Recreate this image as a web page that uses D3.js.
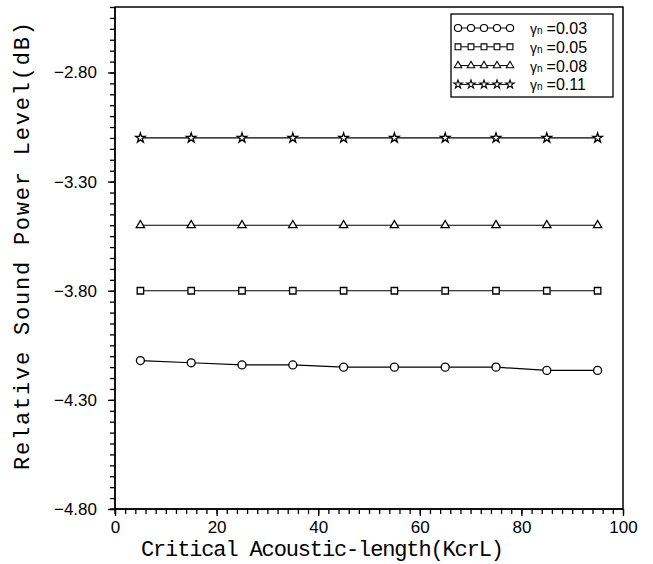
<!DOCTYPE html>
<html>
<head>
<meta charset="utf-8">
<script src="https://cdn.jsdelivr.net/npm/d3@7"></script>
<style>
  body { margin: 0; background: #fff; }
  .axis path, .axis line { stroke: #000; stroke-width: 1.3; }
  .axis text { font-family: "Liberation Sans", sans-serif; font-size: 17px; fill: #000; }
  .title { font-family: "Liberation Mono", monospace; font-size: 22px; fill: #000; }
</style>
</head>
<body>
<script>
// data
var xVals = [5, 15, 25, 35, 45, 55, 65, 75, 85, 95];
var gamma003 = [-4.12, -4.13, -4.14, -4.14, -4.15, -4.15, -4.15, -4.15, -4.165, -4.165];
var gamma005 = [-3.80, -3.80, -3.80, -3.80, -3.80, -3.80, -3.80, -3.80, -3.80, -3.80];
var gamma008 = [-3.50, -3.50, -3.50, -3.50, -3.50, -3.50, -3.50, -3.50, -3.50, -3.50];
var gamma011 = [-3.10, -3.10, -3.10, -3.10, -3.10, -3.10, -3.10, -3.10, -3.10, -3.10];
var seriesLabels = ["0.03", "0.05", "0.08", "0.11"];
var xTicks = [0, 20, 40, 60, 80, 100];
var yTicks = [-4.80, -4.30, -3.80, -3.30, -2.80];

//width, height and plot box
var w = 653, h = 564;
var padLeft = 115, padRight = 623, padTop = 7, padBottom = 509;

var svg = d3.select("body").append("svg")
    .attr("width", w)
    .attr("height", h);

var xScale = d3.scaleLinear().domain([0, 100]).range([padLeft, padRight]);
var yScale = d3.scaleLinear().domain([-4.80, -2.50]).range([padBottom, padTop]);

//frame
svg.append("rect")
    .attr("x", padLeft).attr("y", padTop)
    .attr("width", padRight - padLeft).attr("height", padBottom - padTop)
    .attr("fill", "none").attr("stroke", "#000").attr("stroke-width", 1.5);

//minor ticks
var xMinor = d3.range(0, 101, 2);
var yMinor = d3.range(0, 47).map(function(i){ return -4.80 + i * 0.05; });

svg.append("g")
    .attr("class", "axis")
    .attr("transform", "translate(0," + padBottom + ")")
    .call(d3.axisBottom(xScale).tickValues(xMinor).tickSize(5).tickSizeOuter(0).tickFormat(""))
    .select(".domain").remove();

svg.append("g")
    .attr("class", "axis")
    .attr("transform", "translate(" + padLeft + ",0)")
    .call(d3.axisLeft(yScale).tickValues(yMinor).tickSize(5).tickSizeOuter(0).tickFormat(""))
    .select(".domain").remove();

//major ticks with labels
var xAxis = svg.append("g")
    .attr("class", "axis")
    .attr("transform", "translate(0," + padBottom + ")")
    .call(d3.axisBottom(xScale).tickValues(xTicks).tickSize(7).tickPadding(5).tickSizeOuter(0).tickFormat(d3.format("d")));
xAxis.select(".domain").attr("d", "M" + (padLeft - 5) + ",0H" + padRight);

var yAxis = svg.append("g")
    .attr("class", "axis")
    .attr("transform", "translate(" + padLeft + ",0)")
    .call(d3.axisLeft(yScale).tickValues(yTicks).tickSize(7).tickPadding(11).tickSizeOuter(0).tickFormat(d3.format(".2f")));
yAxis.select(".domain").attr("d", "M0," + padTop + "V" + (padBottom + 5));

//axis titles
svg.append("text")
    .attr("class", "title")
    .attr("x", 141).attr("y", 556)
    .attr("textLength", 363).attr("lengthAdjust", "spacing")
    .text("Critical Acoustic-length(KcrL)");

svg.append("text")
    .attr("class", "title")
    .attr("transform", "translate(29,470) rotate(-90)")
    .attr("textLength", 448).attr("lengthAdjust", "spacing")
    .text("Relative Sound Power Level(dB)");

//series
var series = [
    {vals: gamma003, sym: d3.symbolCircle, size: 50},
    {vals: gamma005, sym: d3.symbolSquare, size: 42},
    {vals: gamma008, sym: d3.symbolTriangle, size: 30},
    {vals: gamma011, sym: d3.symbolStar, size: 28}
];

var line = d3.line()
    .x(function(d){ return xScale(d[0]); })
    .y(function(d){ return yScale(d[1]); });

series.forEach(function(s){
    var pts = xVals.map(function(x, i){ return [x, s.vals[i]]; });
    svg.append("path")
        .datum(pts)
        .attr("d", line)
        .attr("fill", "none")
        .attr("stroke", "#000")
        .attr("stroke-width", 1.2);
    svg.selectAll(null)
        .data(pts)
        .enter()
        .append("path")
        .attr("transform", function(d){ return "translate(" + xScale(d[0]) + "," + yScale(d[1]) + ")"; })
        .attr("d", d3.symbol().type(s.sym).size(s.size))
        .attr("fill", "#fff")
        .attr("stroke", "#000")
        .attr("stroke-width", 1.3);
});

//legend
var lg = svg.append("g").attr("transform", "translate(451,14)");
lg.append("rect")
    .attr("width", 162).attr("height", 83)
    .attr("fill", "#fff").attr("stroke", "#000").attr("stroke-width", 1.3);

series.forEach(function(s, i){
    var yy = 14 + i * 18.8;
    lg.append("line")
        .attr("x1", 7).attr("x2", 59)
        .attr("y1", yy).attr("y2", yy)
        .attr("stroke", "#000").attr("stroke-width", 1);
    d3.range(5).forEach(function(k){
        lg.append("path")
            .attr("transform", "translate(" + (7 + k * 13) + "," + yy + ")")
            .attr("d", d3.symbol().type(s.sym).size(s.size * 0.8))
            .attr("fill", "#fff")
            .attr("stroke", "#000")
            .attr("stroke-width", 1.1);
    });
    var t = lg.append("text")
        .attr("x", 79).attr("y", yy + 6)
        .attr("font-family", "Liberation Sans, sans-serif")
        .attr("fill", "#000");
    t.append("tspan").attr("font-size", "14px").text("γ");
    t.append("tspan").attr("font-size", "10px").text("n");
    t.append("tspan").attr("font-size", "16px").attr("dx", 4).text("=" + seriesLabels[i]);
});
</script>
</body>
</html>
